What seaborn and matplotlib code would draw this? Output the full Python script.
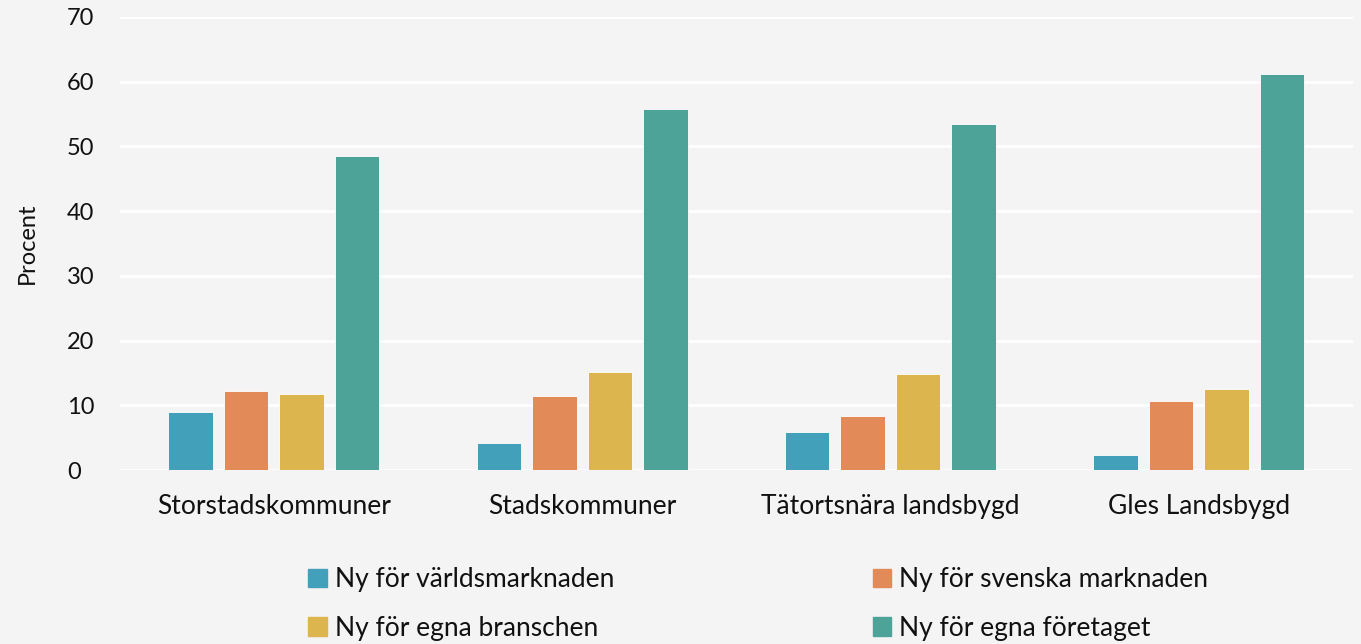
import numpy as np
import pandas as pd
import matplotlib
matplotlib.use("Agg")
import matplotlib.pyplot as plt
import matplotlib.patches as mpatches
import seaborn as sns

# data
CATEGORIES = ["Storstadskommuner", "Stadskommuner", "Tätortsnära landsbygd", "Gles Landsbygd"]
SERIES = ["Ny för världsmarknaden", "Ny för svenska marknaden",
          "Ny för egna branschen", "Ny för egna företaget"]
VARLD   = [9.0, 4.2, 5.9, 2.4]
SVENSKA = [12.2, 11.4, 8.3, 10.6]
BRANSCH = [11.7, 15.1, 14.8, 12.6]
FORETAG = [48.5, 55.8, 53.5, 61.2]
COLORS = ["#43a0ba", "#e38b58", "#dcb54f", "#4ea399"]

BG = "#f4f4f4"

df = pd.DataFrame({
    "kategori": np.repeat(CATEGORIES, 4),
    "serie": SERIES * 4,
    "procent": np.ravel(np.column_stack([VARLD, SVENSKA, BRANSCH, FORETAG])),
})

sns.set_theme(style="whitegrid")
plt.rcParams["font.family"] = ["Lato", "DejaVu Sans"]

fig = plt.figure(figsize=(13.61, 6.44), dpi=100, facecolor=BG)
ax = fig.add_axes([0.088, 0.270, 0.906, 0.704])
ax.set_facecolor(BG)

sns.barplot(data=df, x="kategori", y="procent", hue="serie",
            hue_order=SERIES, order=CATEGORIES, palette=COLORS,
            saturation=1, width=0.72, gap=0.2, edgecolor="#ffffff",
            linewidth=0.6, legend=False, ax=ax)

ax.set_xlim(-0.5, 3.5)
ax.set_ylim(0, 70)
ax.set_yticks(range(0, 71, 10))
ax.grid(axis="y", color="white", linewidth=2)
ax.grid(axis="x", visible=False)
ax.set_axisbelow(True)
for s in ax.spines.values():
    s.set_visible(False)

ax.set_xlabel("")
ax.set_ylabel("Procent", fontsize=17, color="#111111", va="center")
ax.yaxis.set_label_coords(-0.0746, 0.5)
ax.tick_params(axis="y", labelsize=17, colors="#111111", length=0, pad=38)
ax.tick_params(axis="x", labelsize=19, colors="#111111", length=0, pad=17)
for lbl in ax.get_yticklabels():
    lbl.set_horizontalalignment("left")

# legend fills by column, so order handles to read row-wise like the original
order = [0, 2, 1, 3]
handles = [mpatches.Patch(color=COLORS[i], label=SERIES[i]) for i in order]
fig.legend(handles=handles, ncol=2, loc="lower left",
           bbox_to_anchor=(0.209, -0.032), frameon=False, fontsize=19,
           handlelength=0.7, handleheight=0.7, handletextpad=0.3,
           columnspacing=9.8, labelspacing=0.9, labelcolor="#111111")

fig.savefig("out.png", dpi=100, facecolor=BG)
